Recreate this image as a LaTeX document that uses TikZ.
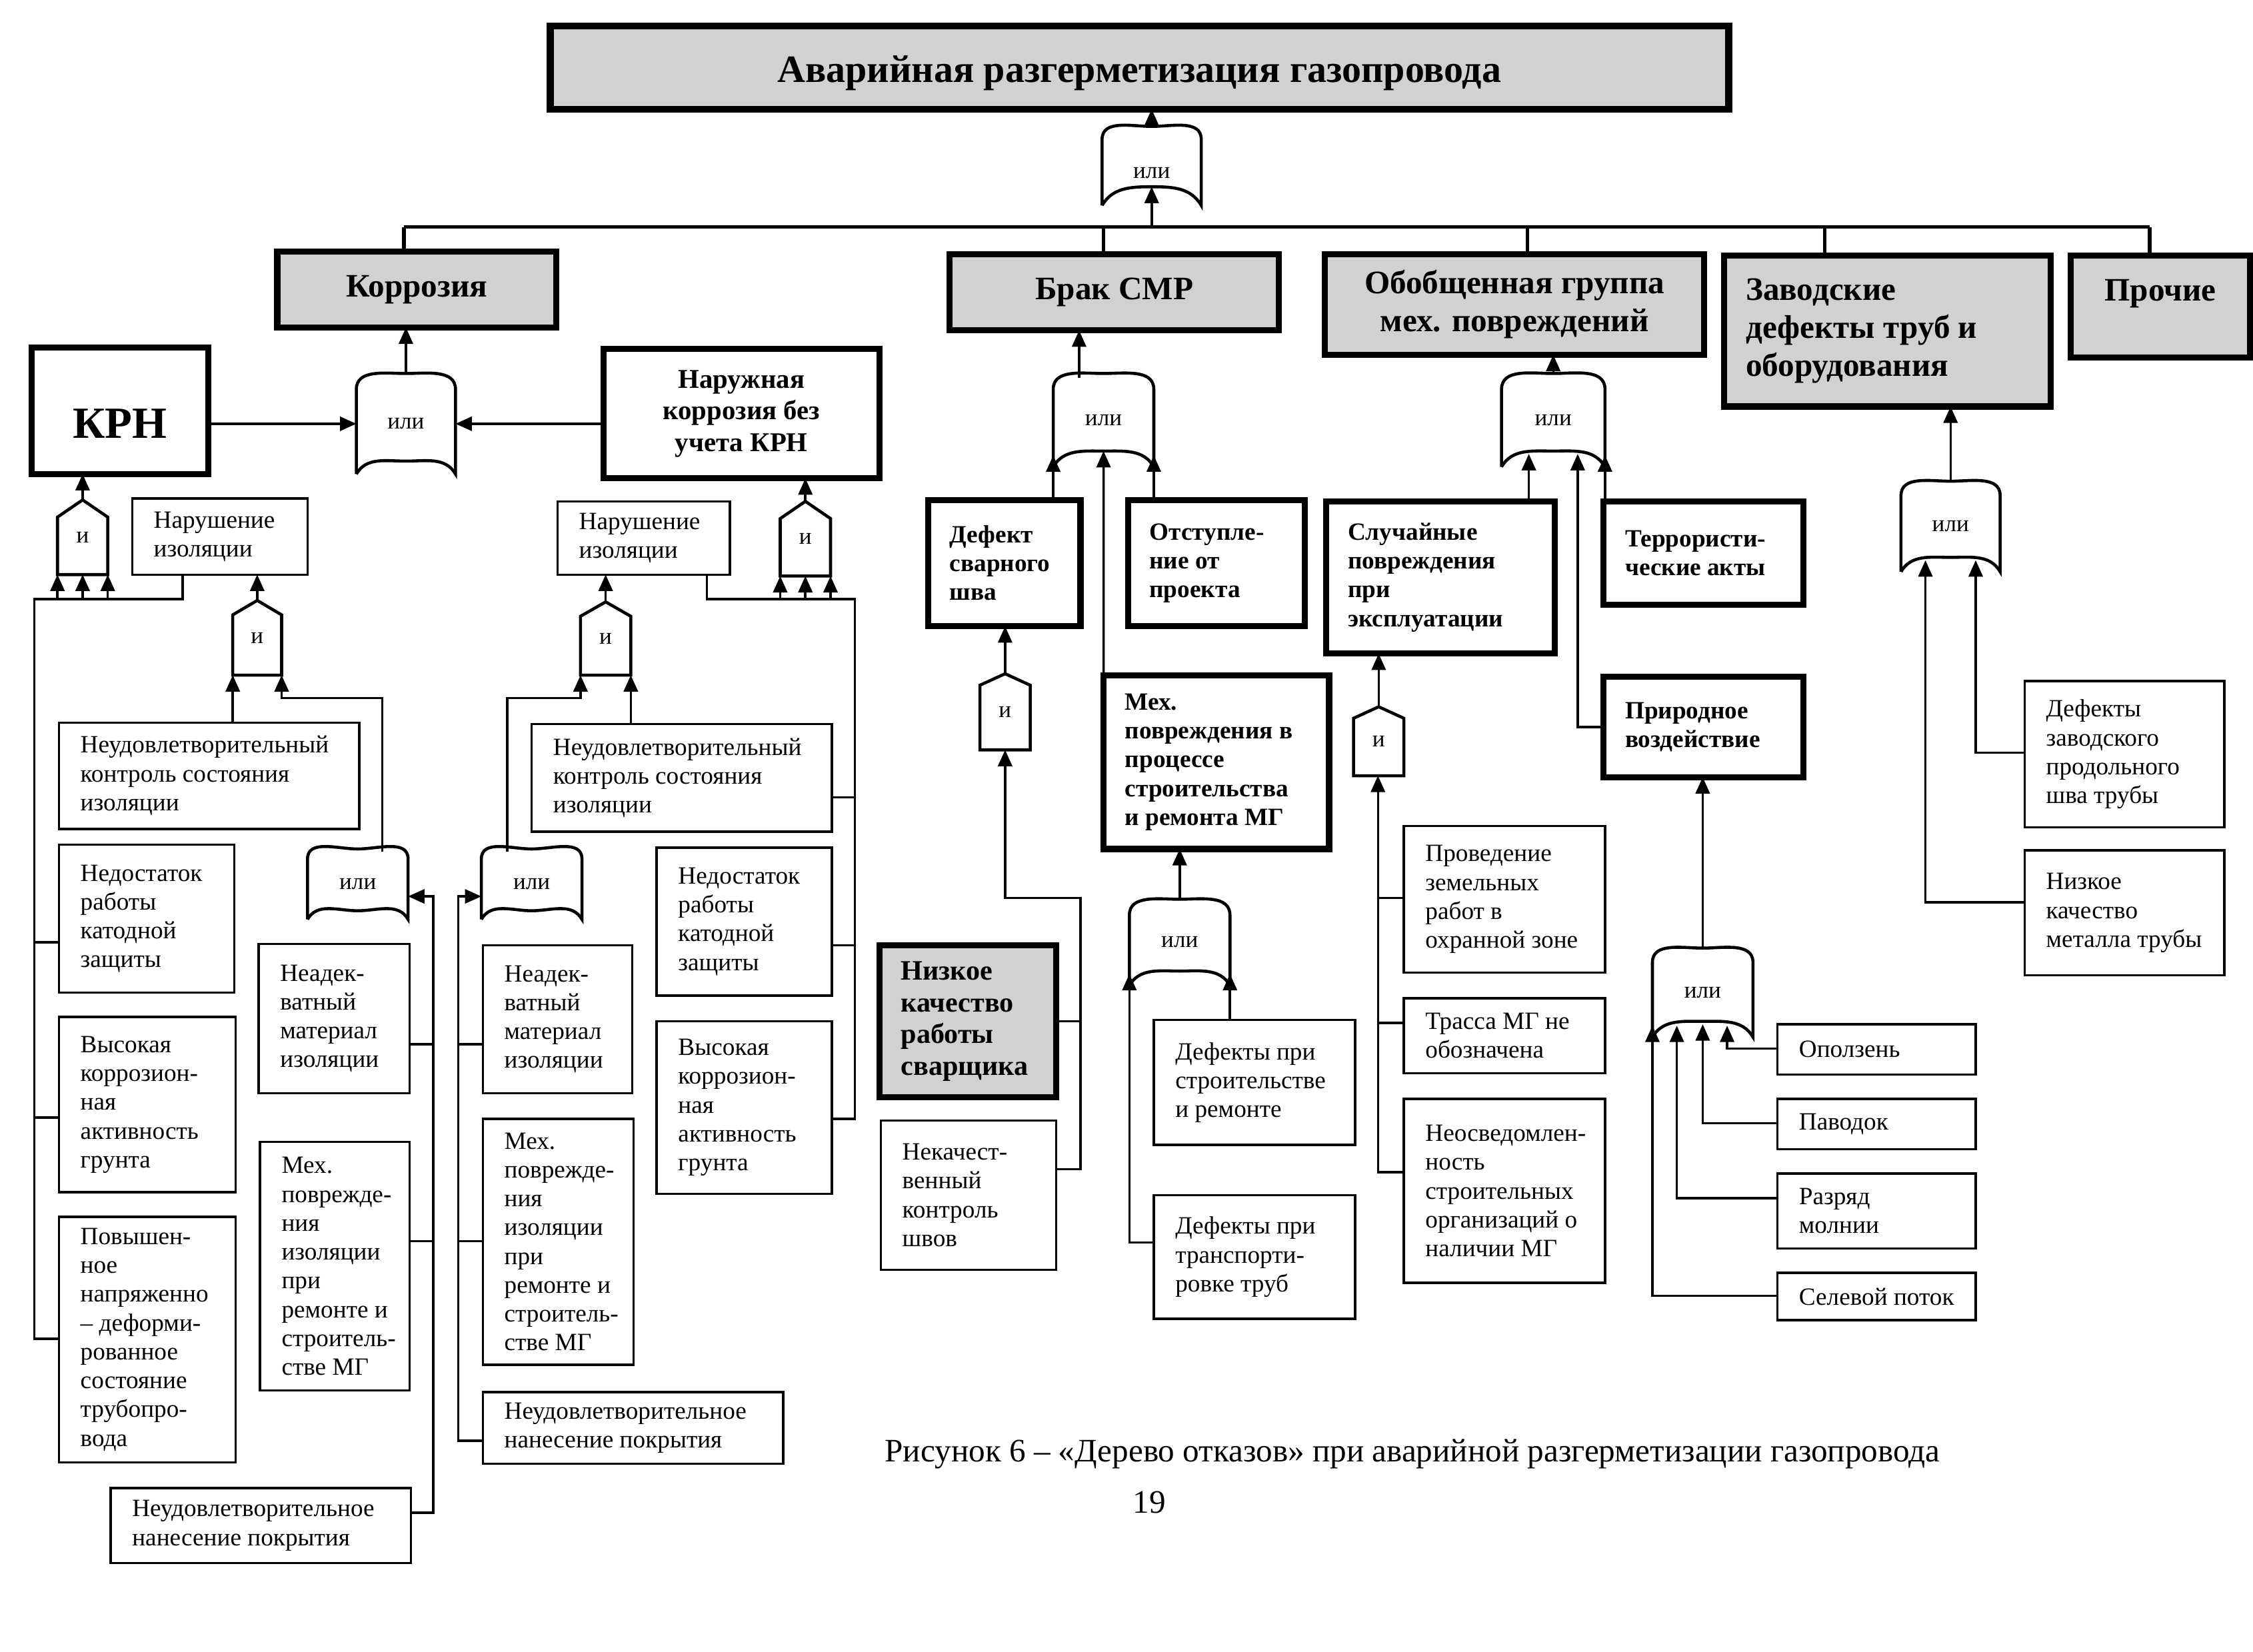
\documentclass[tikz,border=0pt]{standalone}
\usepackage{fontspec}
\setmainfont{Liberation Serif}
\usetikzlibrary{arrows.meta,calc}
\newcommand\myU{0.0215561}
\newcommand\fr{\fontsize{10.6}{12.3}\selectfont}
\newcommand\fb{\bfseries\fontsize{10.6}{12.3}\selectfont}
\newcommand\fg{\fontsize{10}{12}\selectfont}
\newcommand\fL{\bfseries\fontsize{14}{16.2}\selectfont}
\newcommand\mybox[7]{%
  \pgfmathsetmacro\bxw{(#4-#2)*\myU}%
  \pgfmathsetmacro\bxh{(#5-#3)*\myU}%
  \node[#6, minimum width=\bxw cm, minimum height=\bxh cm, anchor=north west] (#1) at (#2,#3) {#7};}
\newcommand\mytx[3]{\node[txt, font=#2] (#1t) at ($(#1.west)+(15,0)$) {#3};}
\newcommand\mycx[4]{\node[inner sep=0pt, align=center, font=#2] (#1t) at ($(#1.center)+(0,#3)$) {#4};}
\newcommand\myor[8]{%
  \pgfmathsetmacro\bxw{(#4-#2)*\myU}%
  \pgfmathsetmacro\bxh{(#5-#3)*\myU}%
  \node[gatenode, minimum width=\bxw cm, minimum height=\bxh cm, anchor=north west] (#1) at (#2,#3) {#6};
  \draw[gateline] (#1.south west) -- ($(#1.north west)+(0,#7)$) to[out=90,in=180] (#1.north) to[out=0,in=90] ($(#1.north east)+(0,#7)$) -- (#1.south east) to[out=120,in=0] ($(#1.south)+(0,-#8)$) to[out=180,in=60] (#1.south west);}
\newcommand\myand[7]{%
  \pgfmathsetmacro\bxw{(#4-#2)*\myU}%
  \pgfmathsetmacro\bxh{(#5-#3)*\myU}%
  \node[gatenode, minimum width=\bxw cm, minimum height=\bxh cm, anchor=north west] (#1) at (#2,#3) {#6};
  \draw[gateline] (#1.south west) -- ($(#1.north west)+(0,#7)$) -- (#1.north) -- ($(#1.north east)+(0,#7)$) -- (#1.south east) -- cycle;}
\begin{document}
\begin{tikzpicture}[x=0.0215561cm, y=-0.0215561cm,
  every node/.style={outer sep=0pt},
  thinbox/.style={draw, line width=1pt, fill=white, inner sep=0pt},
  thickbox/.style={draw, line width=2.6pt, fill=white, inner sep=0pt},
  graybox/.style={draw, line width=2.6pt, fill=black!18, inner sep=0pt},
  gatenode/.style={inner sep=0pt, font=\fg},
  gateline/.style={line width=1.3pt},
  conn/.style={line width=1pt},
  arr/.style={line width=1pt, -{Triangle[length=7pt,width=6pt]}},
  busline/.style={line width=1.6pt},
  txt/.style={anchor=west, align=left, inner sep=0pt}]
\useasboundingbox (0,0) rectangle (1568,1150);

% ---------- top ----------
\mybox{T}{383}{18}{1203}{76}{graybox, line width=3pt}{}
\mycx{T}{\bfseries\fontsize{16.5}{20}\selectfont}{4}{Аварийная разгерметизация газопровода}
\myor{g0}{767}{88}{836}{143}{}{9}{13}
\mycx{g0}{\fg}{5}{или}

\mybox{korr}{193}{175}{387}{228}{graybox, font=\fL}{Коррозия}
\mybox{brak}{661}{177}{890}{230}{graybox, font=\fL}{Брак СМР}
\mybox{obob}{922}{177}{1186}{247}{graybox, font=\fL, align=center}{Обобщенная группа\\мех. повреждений}
\mybox{zavod}{1200}{178}{1427}{283}{graybox}{}
\mytx{zavod}{\fL}{Заводские\\дефекты труб и\\оборудования}
\mybox{proch}{1441}{178}{1566}{249}{graybox}{}
\mycx{proch}{\fL}{-9}{Прочие}

% ---------- corrosion ----------
\mybox{krn}{22}{242}{145}{330}{thickbox}{}
\mycx{krn}{\bfseries\fontsize{19}{22}\selectfont}{9}{КРН}
\myor{gK}{248}{260}{317}{330}{или}{11}{9}
\mybox{nar}{420}{243}{612}{333}{thickbox, align=center, font=\bfseries\fontsize{11.6}{13.5}\selectfont}{Наружная\\коррозия без\\учета КРН}

\myand{gA1}{40}{348}{75}{400}{и}{12}
\mybox{nL}{92}{347}{214}{400}{thinbox}{}
\mytx{nL}{\fr}{Нарушение\\изоляции}
\myand{gA2}{162}{418}{196}{470}{и}{10}
\mybox{nkL}{41}{503}{250}{577}{thinbox}{}
\mytx{nkL}{\fr}{Неудовлетворительный\\контроль состояния\\изоляции}
\mybox{nedL}{41}{588}{163}{691}{thinbox}{}
\mytx{nedL}{\fr}{Недостаток\\работы\\катодной\\защиты}
\mybox{vysL}{41}{708}{164}{830}{thinbox}{}
\mytx{vysL}{\fr}{Высокая\\коррозион-\\ная\\активность\\грунта}
\mybox{povL}{41}{847}{164}{1018}{thinbox}{}
\mytx{povL}{\fr}{Повышен-\\ное\\напряженно\\– деформи-\\рованное\\состояние\\трубопро-\\вода}
\myor{gOL}{214}{591}{284}{640}{или}{7}{6}
\mybox{neadL}{180}{657}{285}{761}{thinbox}{}
\mytx{neadL}{\fr}{Неадек-\\ватный\\материал\\изоляции}
\mybox{mexL}{181}{795}{285}{968}{thinbox}{}
\mytx{mexL}{\fr}{Мех.\\поврежде-\\ния\\изоляции\\при\\ремонте и\\строитель-\\стве МГ}
\mybox{nnL}{77}{1036}{286}{1088}{thinbox}{}
\mytx{nnL}{\fr}{Неудовлетворительное\\нанесение покрытия}

\myand{gA3}{543}{349}{578}{401}{и}{12}
\mybox{nR}{388}{349}{508}{400}{thinbox}{}
\mytx{nR}{\fr}{Нарушение\\изоляции}
\myand{gA4}{404}{419}{439}{470}{и}{10}
\mybox{nkR}{370}{504}{579}{579}{thinbox}{}
\mytx{nkR}{\fr}{Неудовлетворительный\\контроль состояния\\изоляции}
\mybox{nedR}{457}{590}{579}{693}{thinbox}{}
\mytx{nedR}{\fr}{Недостаток\\работы\\катодной\\защиты}
\mybox{vysR}{457}{711}{579}{831}{thinbox}{}
\mytx{vysR}{\fr}{Высокая\\коррозион-\\ная\\активность\\грунта}
\myor{gOR}{335}{591}{405}{640}{или}{7}{6}
\mybox{neadR}{336}{658}{440}{761}{thinbox}{}
\mytx{neadR}{\fr}{Неадек-\\ватный\\материал\\изоляции}
\mybox{mexR}{336}{779}{441}{950}{thinbox}{}
\mytx{mexR}{\fr}{Мех.\\поврежде-\\ния\\изоляции\\при\\ремонте и\\строитель-\\стве МГ}
\mybox{nnR}{336}{969}{545}{1019}{thinbox}{}
\mytx{nnR}{\fr}{Неудовлетворительное\\нанесение покрытия}

% ---------- Брак СМР ----------
\myor{gB}{733}{260}{803}{325}{или}{11}{11}
\mybox{defS}{646}{348}{752}{436}{thickbox}{}
\mytx{defS}{\fb}{Дефект\\сварного\\шва}
\mybox{otst}{785}{348}{908}{436}{thickbox}{}
\mytx{otst}{\fb}{Отступле-\\ние от\\проекта}
\myand{gA5}{682}{469}{717}{522}{и}{8}
\mybox{mexP}{768}{470}{925}{591}{thickbox}{}
\mytx{mexP}{\fb}{Мех.\\повреждения в\\процессе\\строительства\\и ремонта МГ}
\mybox{nizk}{612}{658}{735}{764}{graybox}{}
\mytx{nizk}{\bfseries\fontsize{12}{13.5}\selectfont}{Низкое\\качество\\работы\\сварщика}
\mybox{nekach}{613}{780}{735}{884}{thinbox}{}
\mytx{nekach}{\fr}{Некачест-\\венный\\контроль\\швов}
\myor{gM}{786}{626}{856}{686}{или}{11}{10}
\mybox{defC}{803}{710}{943}{797}{thinbox}{}
\mytx{defC}{\fr}{Дефекты при\\строительстве\\и ремонте}
\mybox{defT}{803}{832}{943}{918}{thinbox}{}
\mytx{defT}{\fr}{Дефекты при\\транспорти-\\ровке труб}

% ---------- Обобщенная группа ----------
\myor{gO}{1045}{260}{1117}{325}{или}{11}{11}
\mybox{slu}{923}{349}{1082}{455}{thickbox}{}
\mytx{slu}{\fb}{Случайные\\повреждения\\при\\эксплуатации}
\mybox{terr}{1116}{349}{1255}{421}{thickbox}{}
\mytx{terr}{\fb}{Террористи-\\ческие акты}
\mybox{prir}{1116}{471}{1255}{541}{thickbox}{}
\mytx{prir}{\fb}{Природное\\воздействие}
\myand{gA6}{942}{492}{977}{540}{и}{8}
\mybox{prov}{977}{575}{1117}{677}{thinbox}{}
\mytx{prov}{\fr}{Проведение\\земельных\\работ в\\охранной зоне}
\mybox{tras}{977}{695}{1117}{747}{thinbox}{}
\mytx{tras}{\fr}{Трасса МГ не\\обозначена}
\mybox{neos}{977}{765}{1117}{893}{thinbox}{}
\mytx{neos}{\fr}{Неосведомлен-\\ность\\строительных\\организаций о\\наличии МГ}
\myor{gP}{1150}{660}{1220}{722}{или}{10}{11}
\mybox{opol}{1237}{713}{1375}{748}{thinbox}{}
\mytx{opol}{\fr}{Оползень}
\mybox{pav}{1237}{765}{1375}{800}{thinbox}{}
\mytx{pav}{\fr}{Паводок}
\mybox{razr}{1237}{817}{1375}{869}{thinbox}{}
\mytx{razr}{\fr}{Разряд\\молнии}
\mybox{sel}{1237}{886}{1375}{919}{thinbox}{}
\mytx{sel}{\fr}{Селевой поток}

% ---------- Заводские ----------
\myor{gZ}{1323}{335}{1392}{398}{или}{10}{10}
\mybox{defZ}{1409}{474}{1548}{576}{thinbox}{}
\mytx{defZ}{\fr}{Дефекты\\заводского\\продольного\\шва трубы}
\mybox{nizM}{1409}{592}{1548}{679}{thinbox}{}
\mytx{nizM}{\fr}{Низкое\\качество\\металла трубы}

% ---------- caption ----------
\node[font=\fontsize{14}{16}\selectfont] (cap) at (983,1012) {Рисунок 6 – «Дерево отказов» при аварийной разгерметизации газопровода};
\node[font=\fontsize{14}{16}\selectfont] (pg) at (800,1046) {19};

% ================= connectors =================
\coordinate (dK) at (281,158);
\coordinate (dB) at (768,158);
\coordinate (dO) at (1063,158);
\coordinate (dZ) at (1270,158);
\coordinate (dP) at (1496,158);
\draw[busline] (dK) -- (dP);
\draw[busline] (dK) -- (dK |- korr.north);
\draw[busline] (dB) -- (dB |- brak.north);
\draw[busline] (dO) -- (dO |- obob.north);
\draw[busline] (dZ) -- (dZ |- zavod.north);
\draw[busline] (dP) -- (dP |- proch.north);
\draw[arr] (g0.north) -- (g0.north |- T.south);
\draw[arr] (g0.south |- dK) -- ($(g0.south)+(0,-13)$);

% corrosion
\draw[arr] (gK.north) -- (gK.north |- korr.south);
\draw[arr] (krn.east |- gK.west) -- (gK.west);
\draw[arr] (nar.west |- gK.east) -- (gK.east);
\draw[arr] (gA1.north) -- (gA1.north |- krn.south);
\coordinate (jA) at (127,417);
\coordinate (jB) at (24,417);
\coordinate (b1) at (24,656);
\coordinate (b2) at (24,778);
\coordinate (b3) at (24,932);
\draw[conn] (jA |- nL.south) -- (jA) -- (jB) -- (b3) -- (b3 -| povL.west);
\draw[conn] (b1) -- (b1 -| nedL.west);
\draw[conn] (b2) -- (b2 -| vysL.west);
\draw[arr] (gA1.south west |- jA) -- (gA1.south west);
\draw[arr] (gA1.south |- jA) -- (gA1.south);
\draw[arr] (gA1.south east |- jA) -- (gA1.south east);
\draw[arr] (gA2.north) -- (gA2.north |- nL.south);
\draw[arr] (gA2.south west |- nkL.north) -- (gA2.south west);
\coordinate (jC) at (266,486);
\draw[arr] ($(jC |- gOL.north)+(0,2)$) -- (jC) -- (jC -| gA2.south east) -- (gA2.south east);
\coordinate (c1) at (301.5,624);
\coordinate (c2) at (301.5,727);
\coordinate (c3) at (301.5,864);
\coordinate (c4) at (301.5,1053);
\draw[arr] (c4 -| nnL.east) -- (c4) -- (c1) -- (c1 -| gOL.east);
\draw[conn] (c2 -| neadL.east) -- (c2);
\draw[conn] (c3 -| mexL.east) -- (c3);

\draw[arr] (gA3.north) -- (gA3.north |- nar.south);
\coordinate (jD) at (492,417);
\coordinate (jE) at (595,417);
\coordinate (d1) at (595,555);
\coordinate (d2) at (595,658);
\coordinate (d3) at (595,779);
\draw[conn] (jD |- nR.south) -- (jD) -- (jE) -- (d3) -- (d3 -| vysR.east);
\draw[conn] (d1) -- (d1 -| nkR.east);
\draw[conn] (d2) -- (d2 -| nedR.east);
\draw[arr] (gA3.south west |- jD) -- (gA3.south west);
\draw[arr] (gA3.south |- jD) -- (gA3.south);
\draw[arr] (gA3.south east |- jD) -- (gA3.south east);
\draw[arr] (gA4.north) -- (gA4.north |- nR.south);
\draw[arr] (gA4.south east |- nkR.north) -- (gA4.south east);
\coordinate (jF) at (353,486);
\draw[arr] ($(jF |- gOR.north)+(0,2)$) -- (jF) -- (jF -| gA4.south west) -- (gA4.south west);
\coordinate (q1) at (319,624);
\coordinate (q2) at (319,727);
\coordinate (q3) at (319,864);
\coordinate (q4) at (319,1003);
\draw[arr] (q4 -| nnR.west) -- (q4) -- (q1) -- (q1 -| gOR.west);
\draw[conn] (q2) -- (q2 -| neadR.west);
\draw[conn] (q3) -- (q3 -| mexR.west);

% Брак СМР
\coordinate (gBo) at ($(gB.north)+(-17,3)$);
\draw[arr] (gBo) -- (gBo |- brak.south);
\draw[arr] (defS.north -| gB.south west) -- ($(gB.south west)+(0,-8)$);
\draw[arr] (mexP.north west) -- ($(gB.south)+(0,-11)$);
\draw[arr] (otst.north -| gB.south east) -- ($(gB.south east)+(0,-8)$);
\draw[arr] (gA5.north) -- (gA5.north |- defS.south);
\coordinate (e0) at (752,625);
\coordinate (e1) at (752,711);
\coordinate (e2) at (752,814);
\draw[arr] (e2 -| nekach.east) -- (e2) -- (e0) -- (e0 -| gA5.south) -- (gA5.south);
\draw[conn] (e1 -| nizk.east) -- (e1);
\draw[arr] (gM.north) -- (gM.north |- mexP.south);
\coordinate (f1) at (786,865);
\draw[arr] (f1 -| defT.west) -- (f1) -- ($(gM.south west)+(0,-8)$);
\draw[arr] (defC.north -| gM.south east) -- ($(gM.south east)+(0,-8)$);

% Обобщенная
\draw[arr] (gO.north) -- (gO.north |- obob.south);
\coordinate (o1) at (1064,300);
\coordinate (o2) at (1098,506);
\draw[arr] (o1 |- slu.north) -- ($(o1 |- gO.south)+(0,-9)$);
\draw[arr] (o2 -| prir.west) -- (o2) -- ($(o2 |- gO.south)+(0,-9)$);
\draw[arr] (gO.south east |- terr.north) -- ($(gO.south east)+(0,-8)$);
\draw[arr] (gA6.north) -- (gA6.north |- slu.south);
\coordinate (h1) at (959,625);
\coordinate (h2) at (959,712);
\coordinate (h3) at (959,816);
\draw[arr] (h3 -| neos.west) -- (h3) -- (h3 |- gA6.south);
\draw[conn] (h1) -- (h1 -| prov.west);
\draw[conn] (h2) -- (h2 -| tras.west);
\draw[arr] (gP.north) -- (gP.north |- prir.south);
\coordinate (k1) at (1202,730);
\coordinate (k2) at (1185,782);
\coordinate (k3) at (1167,834);
\coordinate (k4) at (1150,902);
\draw[arr] (k1 -| opol.west) -- (k1) -- ($(k1 |- gP.south)+(0,-8)$);
\draw[arr] (k2 -| pav.west) -- (k2) -- ($(k2 |- gP.south)+(0,-9)$);
\draw[arr] (k3 -| razr.west) -- (k3) -- ($(k3 |- gP.south)+(0,-8)$);
\draw[arr] (k4 -| sel.west) -- (k4) -- ($(k4 |- gP.south)+(0,-8)$);

% Заводские
\draw[arr] (gZ.north) -- (gZ.north |- zavod.south);
\coordinate (m1) at (1375,524);
\coordinate (m2) at (1340,628);
\draw[arr] (m1 -| defZ.west) -- (m1) -- ($(m1 |- gZ.south)+(0,-8)$);
\draw[arr] (m2 -| nizM.west) -- (m2) -- ($(m2 |- gZ.south)+(0,-8)$);
\end{tikzpicture}
\end{document}
